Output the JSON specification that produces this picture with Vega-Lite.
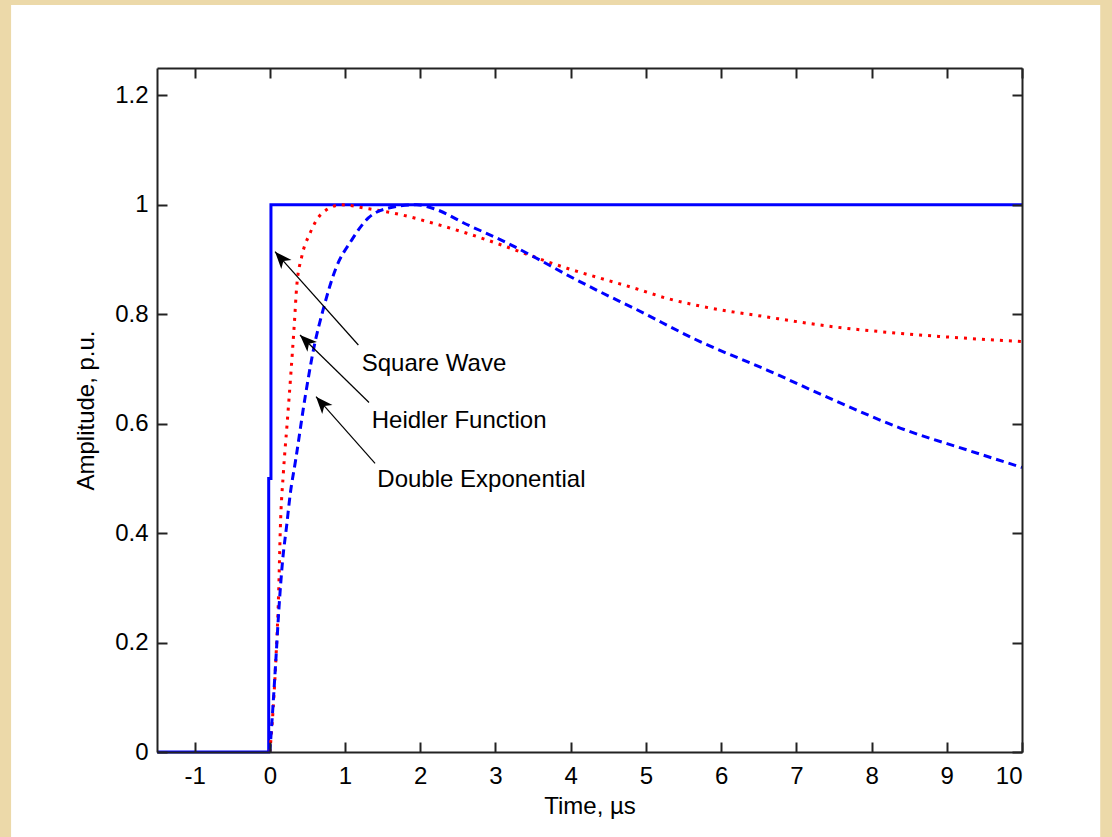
{
  "$schema": "https://vega.github.io/schema/vega-lite/v6.json",
  "width": 865,
  "height": 684,
  "autosize": {"type": "none"},
  "padding": {"left": 157, "top": 68, "right": 90, "bottom": 85},
  "background": "#ECD9A9",
  "config": {
    "view": {"stroke": null, "fill": null},
    "font": "Liberation Sans",
    "axis": {
      "labelFont": "Liberation Sans",
      "labelFontSize": 24,
      "labelColor": "#000000",
      "tickColor": "#222222",
      "tickWidth": 2,
      "tickSize": -10,
      "domainColor": "#222222",
      "domainWidth": 2,
      "grid": false,
      "titleFont": "Liberation Sans",
      "titleFontSize": 24,
      "titleFontWeight": "normal",
      "titleColor": "#000000"
    }
  },
  "datasets": {
    "curves": [
      {"s": "sq", "t": -1.5, "v": 0},
      {"s": "sq", "t": -0.015, "v": 0},
      {"s": "sq", "t": -0.015, "v": 0.5},
      {"s": "sq", "t": 0.015, "v": 0.5},
      {"s": "sq", "t": 0.015, "v": 1},
      {"s": "sq", "t": 10, "v": 1},
      {"s": "hf", "t": 0, "v": 0},
      {"s": "hf", "t": 0.03, "v": 0.05},
      {"s": "hf", "t": 0.08, "v": 0.168},
      {"s": "hf", "t": 0.117, "v": 0.29},
      {"s": "hf", "t": 0.14, "v": 0.41},
      {"s": "hf", "t": 0.18, "v": 0.51},
      {"s": "hf", "t": 0.23, "v": 0.6},
      {"s": "hf", "t": 0.28, "v": 0.692},
      {"s": "hf", "t": 0.326, "v": 0.783},
      {"s": "hf", "t": 0.357, "v": 0.85},
      {"s": "hf", "t": 0.424, "v": 0.905},
      {"s": "hf", "t": 0.534, "v": 0.948},
      {"s": "hf", "t": 0.69, "v": 0.984},
      {"s": "hf", "t": 0.95, "v": 1.0},
      {"s": "hf", "t": 1.3, "v": 0.993},
      {"s": "hf", "t": 1.74, "v": 0.982},
      {"s": "hf", "t": 2.18, "v": 0.966},
      {"s": "hf", "t": 2.62, "v": 0.948},
      {"s": "hf", "t": 3.07, "v": 0.927},
      {"s": "hf", "t": 3.51, "v": 0.905},
      {"s": "hf", "t": 3.95, "v": 0.884},
      {"s": "hf", "t": 4.39, "v": 0.866},
      {"s": "hf", "t": 4.84, "v": 0.848},
      {"s": "hf", "t": 5.28, "v": 0.829},
      {"s": "hf", "t": 5.72, "v": 0.815},
      {"s": "hf", "t": 6.61, "v": 0.795},
      {"s": "hf", "t": 7.5, "v": 0.777},
      {"s": "hf", "t": 8.38, "v": 0.765},
      {"s": "hf", "t": 9.27, "v": 0.756},
      {"s": "hf", "t": 10, "v": 0.75},
      {"s": "de", "t": 0, "v": 0},
      {"s": "de", "t": 0.04, "v": 0.08},
      {"s": "de", "t": 0.08, "v": 0.168},
      {"s": "de", "t": 0.12, "v": 0.26},
      {"s": "de", "t": 0.17, "v": 0.35},
      {"s": "de", "t": 0.225, "v": 0.415},
      {"s": "de", "t": 0.27, "v": 0.47},
      {"s": "de", "t": 0.345, "v": 0.535},
      {"s": "de", "t": 0.47, "v": 0.649},
      {"s": "de", "t": 0.58, "v": 0.735},
      {"s": "de", "t": 0.72, "v": 0.814},
      {"s": "de", "t": 0.87, "v": 0.881},
      {"s": "de", "t": 1.09, "v": 0.936},
      {"s": "de", "t": 1.31, "v": 0.976},
      {"s": "de", "t": 1.58, "v": 0.994},
      {"s": "de", "t": 1.95, "v": 1.0},
      {"s": "de", "t": 2.2, "v": 0.992},
      {"s": "de", "t": 2.62, "v": 0.964},
      {"s": "de", "t": 3.07, "v": 0.936},
      {"s": "de", "t": 3.51, "v": 0.905},
      {"s": "de", "t": 3.95, "v": 0.872},
      {"s": "de", "t": 4.39, "v": 0.841},
      {"s": "de", "t": 4.84, "v": 0.811},
      {"s": "de", "t": 5.72, "v": 0.75},
      {"s": "de", "t": 6.61, "v": 0.698},
      {"s": "de", "t": 7.5, "v": 0.643},
      {"s": "de", "t": 8.38, "v": 0.592},
      {"s": "de", "t": 9.27, "v": 0.552},
      {"s": "de", "t": 10, "v": 0.52}
    ],
    "notes": [
      {"label": "Square Wave", "tx": 1.222, "ty": 0.697, "ax": 1.177, "ay": 0.7438, "hx": 0.069, "hy": 0.9143},
      {"label": "Heidler Function", "tx": 1.355, "ty": 0.5916, "ax": 1.319, "ay": 0.6387, "hx": 0.401, "hy": 0.7621},
      {"label": "Double Exponential", "tx": 1.429, "ty": 0.4848, "ax": 1.399, "ay": 0.5276, "hx": 0.614, "hy": 0.6493}
    ]
  },
  "layer": [
    {
      "data": {"values": [{}]},
      "mark": {"type": "rect", "fill": "#ffffff", "clip": false},
      "encoding": {
        "x": {"datum": -3.44, "type": "quantitative", "scale": {"domain": [-1.5, 10], "nice": false, "zero": false}, "axis": null},
        "x2": {"datum": 11.04},
        "y": {"datum": 1.365, "type": "quantitative", "scale": {"domain": [0, 1.25], "nice": false, "zero": false}, "axis": null},
        "y2": {"datum": -0.2}
      }
    },
    {
      "data": {"name": "curves"},
      "transform": [{"filter": "datum.s == 'sq'"}],
      "mark": {"type": "line", "stroke": "#0000ff", "strokeWidth": 3},
      "encoding": {
        "x": {"field": "t", "type": "quantitative", "scale": {"domain": [-1.5, 10], "nice": false, "zero": false},
              "axis": {"orient": "bottom", "zindex": 2, "values": [-1, 0, 1, 2, 3, 4, 5, 6, 7, 8, 9, 10], "labelExpr": "datum.value + ''", "labelPadding": 22, "title": "Time, µs", "titlePadding": 6}},
        "y": {"field": "v", "type": "quantitative", "scale": {"domain": [0, 1.25], "nice": false, "zero": false},
              "axis": {"orient": "left", "zindex": 2, "values": [0, 0.2, 0.4, 0.6, 0.8, 1, 1.2], "labelExpr": "datum.value + ''", "labelPadding": 19, "title": "Amplitude, p.u.", "titlePadding": 16}}
      }
    },
    {
      "data": {"name": "curves"},
      "transform": [{"filter": "datum.s == 'hf'"}],
      "mark": {"type": "line", "stroke": "#ff0000", "strokeWidth": 3, "strokeDash": [3, 6], "interpolate": "monotone"},
      "encoding": {
        "x": {"field": "t", "type": "quantitative", "scale": {"domain": [-1.5, 10], "nice": false, "zero": false},
              "axis": {"orient": "top", "zindex": 2, "values": [-1, 0, 1, 2, 3, 4, 5, 6, 7, 8, 9, 10], "labels": false, "title": null}},
        "y": {"field": "v", "type": "quantitative", "scale": {"domain": [0, 1.25], "nice": false, "zero": false},
              "axis": {"orient": "right", "zindex": 2, "values": [0, 0.2, 0.4, 0.6, 0.8, 1, 1.2], "labels": false, "title": null}}
      }
    },
    {
      "data": {"name": "curves"},
      "transform": [{"filter": "datum.s == 'de'"}],
      "mark": {"type": "line", "stroke": "#0000ff", "strokeWidth": 3, "strokeDash": [8, 5], "interpolate": "monotone"},
      "encoding": {
        "x": {"field": "t", "type": "quantitative", "scale": {"domain": [-1.5, 10], "nice": false, "zero": false}, "axis": null},
        "y": {"field": "v", "type": "quantitative", "scale": {"domain": [0, 1.25], "nice": false, "zero": false}, "axis": null}
      }
    },
    {
      "data": {"name": "notes"},
      "mark": {"type": "rule", "stroke": "#000000", "strokeWidth": 1.2},
      "encoding": {
        "x": {"field": "ax", "type": "quantitative", "axis": null},
        "y": {"field": "ay", "type": "quantitative", "axis": null},
        "x2": {"field": "hx"},
        "y2": {"field": "hy"}
      }
    },
    {
      "data": {"name": "notes"},
      "transform": [{"filter": "datum.label == 'Square Wave'"}],
      "mark": {"type": "point", "shape": "M0,0L-0.6,1.5L0,1.1L0.6,1.5Z", "size": 520, "filled": true, "fill": "#000000", "opacity": 1, "strokeWidth": 0, "angle": -41.8},
      "encoding": {
        "x": {"field": "hx", "type": "quantitative", "axis": null},
        "y": {"field": "hy", "type": "quantitative", "axis": null}
      }
    },
    {
      "data": {"name": "notes"},
      "transform": [{"filter": "datum.label == 'Heidler Function'"}],
      "mark": {"type": "point", "shape": "M0,0L-0.6,1.5L0,1.1L0.6,1.5Z", "size": 520, "filled": true, "fill": "#000000", "opacity": 1, "strokeWidth": 0, "angle": -45.6},
      "encoding": {
        "x": {"field": "hx", "type": "quantitative", "axis": null},
        "y": {"field": "hy", "type": "quantitative", "axis": null}
      }
    },
    {
      "data": {"name": "notes"},
      "transform": [{"filter": "datum.label == 'Double Exponential'"}],
      "mark": {"type": "point", "shape": "M0,0L-0.6,1.5L0,1.1L0.6,1.5Z", "size": 520, "filled": true, "fill": "#000000", "opacity": 1, "strokeWidth": 0, "angle": -41.5},
      "encoding": {
        "x": {"field": "hx", "type": "quantitative", "axis": null},
        "y": {"field": "hy", "type": "quantitative", "axis": null}
      }
    },
    {
      "data": {"name": "notes"},
      "mark": {"type": "text", "align": "left", "baseline": "alphabetic", "font": "Liberation Sans", "fontSize": 24, "fill": "#000000"},
      "encoding": {
        "x": {"field": "tx", "type": "quantitative", "axis": null},
        "y": {"field": "ty", "type": "quantitative", "axis": null},
        "text": {"field": "label"}
      }
    }
  ],
  "resolve": {"axis": {"x": "independent", "y": "independent"}}
}
